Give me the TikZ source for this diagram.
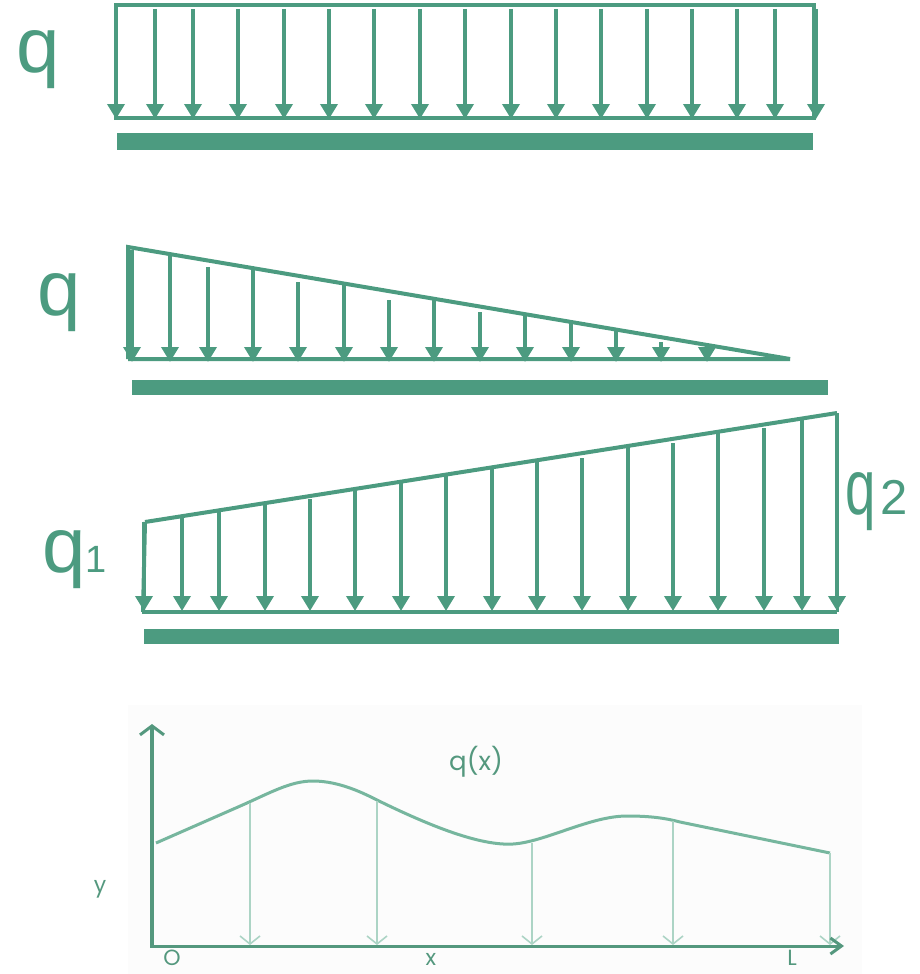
\documentclass[tikz,border=0pt]{standalone}
\usepackage{fontspec}
\setmainfont{Liberation Sans}
\newfontfamily\labfont{Poppins}
\usetikzlibrary{arrows.meta}
\definecolor{ldgreen}{RGB}{76,155,128}
\definecolor{axgreen}{RGB}{84,152,126}
\definecolor{crvgreen}{RGB}{118,182,158}
\definecolor{vgreen}{RGB}{172,212,197}
\definecolor{panelbg}{RGB}{252,252,252}
\tikzset{
  frameline/.style={draw=ldgreen, line width=4pt, line cap=rect},
  loadarrow/.style={draw=ldgreen, line width=3.6pt, -{Triangle[width=17pt,length=15pt]}},
  beam/.style={fill=ldgreen, draw=none},
  qlab/.style={text=ldgreen, inner sep=0pt, font=\fontsize{78}{78}\selectfont},
  axisline/.style={draw=axgreen, line width=3pt},
  curveline/.style={draw=crvgreen, line width=3pt},
  vline/.style={draw=vgreen, line width=2pt, -{Straight Barb[width=20pt,length=8pt,line width=1.6pt]}},
  smalllab/.style={text=axgreen, inner sep=0pt, font=\labfont\fontsize{22}{22}\selectfont},
}
\begin{document}
\begin{tikzpicture}[x=1pt,y=-1pt]
\useasboundingbox (0,0) rectangle (919,974);
% ---------- Panel 1: uniform load ----------
\draw[frameline] (116,5) rectangle (814,118);
\foreach \x in {116,155,193,238,284,329,374,420,465,511,556,601,647,692,737,775,816}
  \draw[loadarrow] (\x,9) -- (\x,119);
\fill[beam] (117,133) rectangle (813,150);
\node[qlab, anchor=base west] (qA) at (16.4,73) {q};
% ---------- Panel 2: triangular load ----------
\coordinate (t2a) at (128,247);
\coordinate (t2b) at (790,359);
\coordinate (b2a) at (128,359);
\draw[frameline, line cap=butt] (b2a) -- (t2a) -- (t2b) -- (b2a);
\foreach \x/\t in {132/250,170/254,208/267,253/268,298/282,344/284,389/300,434/299,480/312,525/314,571/322,616/330,661/342,707/345}
  \draw[loadarrow] (\x,\t) -- (\x,362);
\fill[beam] (132,380) rectangle (828,395);
\node[qlab, anchor=base west] (qB) at (37.4,315) {q};
% ---------- Panel 3: trapezoidal load ----------
\coordinate (t3a) at (145,522);
\coordinate (t3b) at (837,413);
\coordinate (b3a) at (142,612);
\coordinate (b3b) at (837,612);
\draw[frameline, line cap=butt] (b3a) -- (b3b);
\draw[frameline, line cap=butt] (t3a) -- (t3b);
\draw[draw=ldgreen, line width=3pt] (t3b) -- (b3b);
\draw[frameline, line cap=butt] (t3a) -- (143,612);
\foreach \x/\t in {144/522,182/516,219/511,265/503,310/499,355/489,401/482,446/475,492/467,537/460,582/458,628/446,673/443,718/432,764/428,802/419,837/414}
  \draw[loadarrow] (\x,\t) -- (\x,611);
\fill[beam] (144,629) rectangle (839,644);
\node[qlab, anchor=base west] (qC) at (42.4,572) {q{\fontsize{38}{38}\selectfont 1}};
\node[qlab, anchor=base west] (qD) at (845,514) {\scalebox{0.7}[1]{q}\hspace{5pt}{\fontsize{49}{49}\selectfont 2}};
% ---------- Panel 4: arbitrary load q(x) ----------
\fill[panelbg] (128,705) rectangle (862,974);
\coordinate (O) at (152,946);
\coordinate (ytip) at (152,724);
\coordinate (xtip) at (844,946);
\draw[curveline, line join=round]
  (156,843) -- (238,807)
  .. controls (270,793) and (290,781) .. (313,781)
  .. controls (340,781) and (365,794) .. (377,800)
  .. controls (430,826) and (480,846) .. (513,844)
  .. controls (545,842) and (590,816) .. (627,816)
  .. controls (650,816) and (665,818) .. (680,822)
  -- (830,853);
\coordinate (c1) at (250,803);
\coordinate (c2) at (377,801);
\coordinate (c3) at (532,843);
\coordinate (c4) at (673,821);
\coordinate (c5) at (830,853);
\foreach \c/\x in {c1/250,c2/377,c3/532,c4/673,c5/830}
  \draw[vline] (\c) -- (\x,945);
\draw[axisline, line width=4pt, -{Straight Barb[width=24pt,length=9pt,line width=3pt]}] (O) -- (ytip);
\draw[axisline, -{Straight Barb[width=16pt,length=11pt,line width=3pt]}] (150,946) -- (xtip);
\node[smalllab, font=\labfont\fontsize{26}{26}\selectfont] (qx) at (476,762) {q(x)};
\node[smalllab] (ylab) at (100,889) {y};
\node[smalllab, anchor=base] (olab) at (172,965) {O};
\node[smalllab, anchor=base] (xlab) at (431,965) {x};
\node[smalllab, anchor=base] (llab) at (792,965) {L};
\end{tikzpicture}
\end{document}
